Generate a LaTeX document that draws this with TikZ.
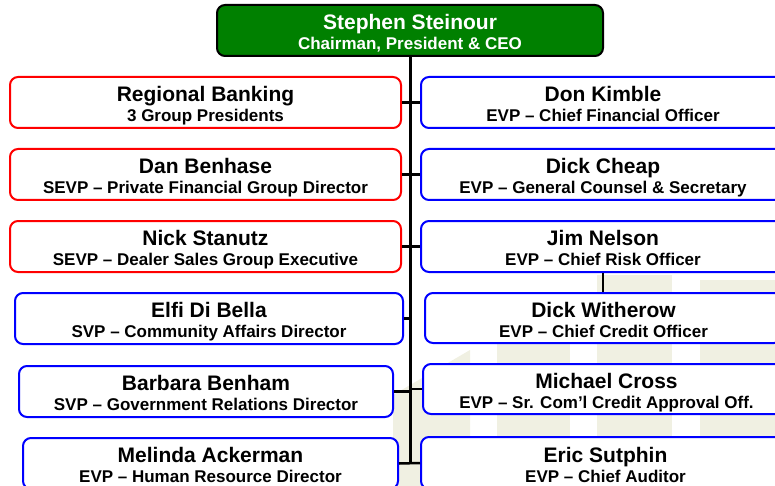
\documentclass[tikz,border=0pt]{standalone}
\usepackage{fontspec}
\setmainfont{Liberation Sans}
\definecolor{ceogreen}{RGB}{0,128,0}
\definecolor{boxred}{RGB}{255,0,0}
\definecolor{boxblue}{RGB}{0,0,255}
\definecolor{bgtint}{RGB}{240,240,226}
\newcommand{\pname}[1]{{\fontsize{21}{21}\selectfont\rule{0pt}{23pt}#1}}
\newcommand{\ptitle}[1]{#1\rule[-5pt]{0pt}{5pt}}
\begin{document}
\begin{tikzpicture}[x=1pt,y=-1pt,
  card/.style={draw, line width=2pt, rounded corners=8pt, fill=white, align=center,
    inner sep=0pt, font=\fontsize{17}{20}\selectfont\bfseries},
  redcard/.style={card, draw=boxred},
  bluecard/.style={card, draw=boxblue},
  ceocard/.style={card, draw=black, fill=ceogreen, text=white},
  link/.style={draw=black, line width=2.5pt},
  trunkline/.style={draw=black, line width=3pt},
  tint/.style={fill=bgtint, draw=none}]
\useasboundingbox (0,0) rectangle (775,486);
\clip (0,0) rectangle (775,486);
% faint background watermark
\fill[tint] (393,395) -- (470,350) -- (470,486) -- (393,486) -- cycle;
\fill[tint] (497,340) rectangle (570,486);
\fill[tint] (597,275) rectangle (672,486);
\fill[tint] (700,280) rectangle (775,486);
% boxes
\node[ceocard, minimum width=386pt, minimum height=51pt] (ceo) at (410,30.5)
  {\pname{Stephen Steinour}\\\ptitle{Chairman, President \& CEO}};
\node[redcard, minimum width=391pt, minimum height=51pt] (rb) at (205.5,102.5)
  {\pname{Regional Banking}\\\ptitle{3 Group Presidents}};
\node[redcard, minimum width=391pt, minimum height=51pt] (db) at (205.5,174.5)
  {\pname{Dan Benhase}\\\ptitle{SEVP -- Private Financial Group Director}};
\node[redcard, minimum width=391pt, minimum height=51pt] (ns) at (205.5,246.5)
  {\pname{Nick Stanutz}\\\ptitle{SEVP -- Dealer Sales Group Executive}};
\node[bluecard, minimum width=388pt, minimum height=51pt] (eb) at (209,318.5)
  {\pname{Elfi Di Bella}\\\ptitle{SVP -- Community Affairs Director}};
\node[bluecard, minimum width=374pt, minimum height=51pt] (bb) at (206,391.5)
  {\pname{Barbara Benham}\\\ptitle{SVP -- Government Relations Director}};
\node[bluecard, minimum width=375pt, minimum height=51pt] (ma) at (210.5,463.5)
  {\pname{Melinda Ackerman}\\\ptitle{EVP -- Human Resource Director}};
\node[bluecard, minimum width=364pt, minimum height=51pt] (dk) at (603,102.5)
  {\pname{Don Kimble}\\\ptitle{EVP -- Chief Financial Officer}};
\node[bluecard, minimum width=364pt, minimum height=51pt] (dc) at (603,174.5)
  {\pname{Dick Cheap}\\\ptitle{EVP -- General Counsel \& Secretary}};
\node[bluecard, minimum width=364pt, minimum height=51pt] (jn) at (603,246.5)
  {\pname{Jim Nelson}\\\ptitle{EVP -- Chief Risk Officer}};
\node[bluecard, minimum width=357pt, minimum height=50pt] (dw) at (603.5,318)
  {\pname{Dick Witherow}\\\ptitle{EVP -- Chief Credit Officer}};
\node[bluecard, minimum width=367pt, minimum height=50pt] (mc) at (606.5,389)
  {\pname{Michael Cross}\\\ptitle{EVP -- Sr. Com’l Credit Approval Off.}};
\node[bluecard, minimum width=369pt, minimum height=52pt] (es) at (605.5,463)
  {\pname{Eric Sutphin}\\\ptitle{EVP -- Chief Auditor}};
% connectors
\coordinate (tend) at (410,463);
\draw[trunkline] (ceo.south) -- (tend);
\draw[link] (rb.east) -- (dk.west);
\draw[link] (db.east) -- (dc.west);
\draw[link] (ns.east) -- (jn.west);
\draw[link] (eb.east) -- (eb.east -| tend);
\draw[link] (bb.east) -- (bb.east -| tend);
\draw[link] (mc.west) -- (mc.west -| tend);
\draw[link] (ma.east) -- (es.west);
\draw[link] (jn.south) -- (jn.south |- dw.north);
\end{tikzpicture}
\end{document}
